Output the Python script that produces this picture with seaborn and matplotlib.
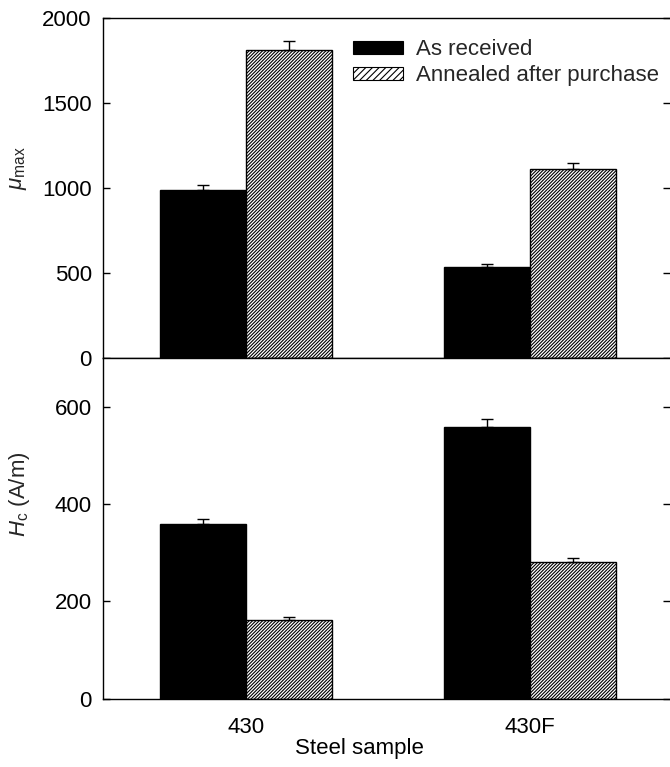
import matplotlib
matplotlib.use("Agg")
import matplotlib.pyplot as plt
import matplotlib.patches as mpatches
import seaborn as sns
import pandas as pd

# Measured magnetic properties of two ferritic stainless steels
samples = ["430", "430F"]
conditions = ["As received", "Annealed after purchase"]

mu_max_received = [988, 537]
mu_max_annealed = [1812, 1112]
mu_max_err_received = [28, 14]
mu_max_err_annealed = [53, 33]

hc_received = [358, 558]
hc_annealed = [162, 281]
hc_err_received = [11, 16]
hc_err_annealed = [6, 9]

df = pd.DataFrame({
    "sample": samples * 2,
    "condition": [conditions[0]] * 2 + [conditions[1]] * 2,
    "mu_max": mu_max_received + mu_max_annealed,
    "mu_err": mu_max_err_received + mu_max_err_annealed,
    "hc": hc_received + hc_annealed,
    "hc_err": hc_err_received + hc_err_annealed,
})

sns.set_style("ticks")
plt.rcParams["font.family"] = ["Liberation Sans", "DejaVu Sans"]
plt.rcParams["mathtext.fontset"] = "custom"
plt.rcParams["mathtext.rm"] = "Liberation Sans"
plt.rcParams["mathtext.it"] = "Liberation Sans:italic"
plt.rcParams["hatch.linewidth"] = 0.8
plt.rcParams["axes.linewidth"] = 1.0

fig = plt.figure(figsize=(6.70, 7.67), dpi=100)
ax_top = fig.add_axes([0.1537, 0.5332, 0.8463, 0.4433])
ax_bot = fig.add_axes([0.1537, 0.0890, 0.8463, 0.4442])

HATCH = "//////////"


def draw_panel(ax, value_col, err_col):
    sns.barplot(data=df, x="sample", y=value_col, hue="condition",
                order=samples, hue_order=conditions,
                palette=["black", "white"], width=0.607,
                errorbar=None, legend=False, ax=ax,
                edgecolor="black", linewidth=1.0, saturation=1)
    for level, container in zip(conditions, ax.containers):
        sub = df[df["condition"] == level].set_index("sample").loc[samples]
        xs = [p.get_x() + p.get_width() / 2 for p in container.patches]
        if level == conditions[1]:
            for p in container.patches:
                p.set_facecolor("white")
                p.set_hatch(HATCH)
                p.set_edgecolor("black")
        ax.errorbar(xs, sub[value_col].values,
                    yerr=[[0] * len(xs), sub[err_col].values],
                    fmt="none", ecolor="black", elinewidth=1.0,
                    capsize=4.6, capthick=1.0, zorder=5)
    ax.set_xlim(-0.505, 1.495)
    for side in ["left", "top", "bottom"]:
        ax.spines[side].set_color("black")
    ax.spines["right"].set_visible(False)
    ax.tick_params(axis="y", which="both", direction="in", length=5,
                   width=1.0, labelsize=16, pad=8, right=True,
                   left=True, colors="black")
    ax.tick_params(axis="x", length=0, labelsize=16, pad=13,
                   colors="black")


draw_panel(ax_top, "mu_max", "mu_err")
draw_panel(ax_bot, "hc", "hc_err")

ax_top.set_ylim(0, 2000)
ax_top.set_yticks([0, 500, 1000, 1500, 2000])
ax_top.set_xticklabels([])
ax_top.set_xlabel("")
ax_top.set_ylabel(r"$\mu_{\mathrm{max}}$", fontsize=16)
ax_top.yaxis.set_label_coords(-0.13, 0.56)

ax_bot.set_ylim(0, 700)
ax_bot.set_yticks([0, 200, 400, 600])
ax_bot.set_ylabel(r"$H_{\mathrm{c}}$ (A/m)", fontsize=16)
ax_bot.yaxis.set_label_coords(-0.125, 0.6)
ax_bot.set_xlabel("Steel sample", fontsize=16, color="black")
ax_bot.xaxis.set_label_coords(0.453, -0.115)

handles = [
    mpatches.Patch(facecolor="black", edgecolor="black", linewidth=0.8,
                   label=conditions[0]),
    mpatches.Patch(facecolor="white", edgecolor="black", linewidth=0.8,
                   hatch="/////", label=conditions[1]),
]
ax_top.legend(handles=handles, loc="upper left",
              bbox_to_anchor=(0.441, 0.937), frameon=False,
              fontsize=16, borderpad=0, handlelength=2.25,
              handleheight=0.5, handletextpad=0.6, labelspacing=0.22,
              borderaxespad=0)

fig.savefig("out.png", dpi=100)
